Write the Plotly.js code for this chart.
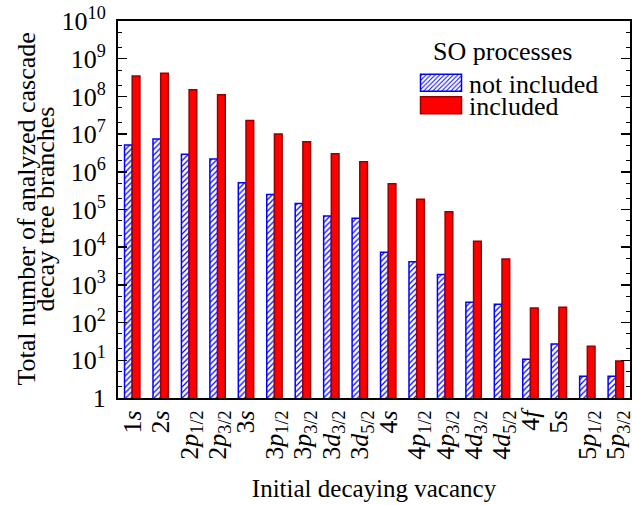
<!DOCTYPE html>
<html>
<head>
<meta charset="utf-8">
<script src="https://cdn.plot.ly/plotly-3.0.1.min.js"></script>
<style>html,body{margin:0;padding:0;background:#fff;}#chart{width:632px;height:505px;}</style>
</head>
<body>
<div id="chart"></div>
<script>
const categories = ["1<i>s</i>","2<i>s</i>","2<i>p</i><sub>1/2</sub>","2<i>p</i><sub>3/2</sub>","3<i>s</i>",
  "3<i>p</i><sub>1/2</sub>","3<i>p</i><sub>3/2</sub>","3<i>d</i><sub>3/2</sub>","3<i>d</i><sub>5/2</sub>","4<i>s</i>",
  "4<i>p</i><sub>1/2</sub>","4<i>p</i><sub>3/2</sub>","4<i>d</i><sub>3/2</sub>","4<i>d</i><sub>5/2</sub>","4<i>f</i>",
  "5<i>s</i>","5<i>p</i><sub>1/2</sub>","5<i>p</i><sub>3/2</sub>"];
const notIncluded = [5.1e6, 7.4e6, 2.9e6, 2.2e6, 5.1e5, 2.5e5, 1.45e5, 6.7e4, 5.9e4, 7.3e3,
  4.1e3, 1.9e3, 346, 307, 10.6, 27, 3.8, 3.8];
const included = [3.5e8, 4.1e8, 1.5e8, 1.1e8, 2.3e7, 1.0e7, 6.3e6, 3.0e6, 1.86e6, 4.8e5,
  1.86e5, 8.7e4, 1.44e4, 4.9e3, 244, 255, 23.5, 9.6];
const yTickVals = [1,1e1,1e2,1e3,1e4,1e5,1e6,1e7,1e8,1e9,1e10];
const yTickText = ["1","10<sup>1</sup>","10<sup>2</sup>","10<sup>3</sup>","10<sup>4</sup>","10<sup>5</sup>",
  "10<sup>6</sup>","10<sup>7</sup>","10<sup>8</sup>","10<sup>9</sup>","10<sup>10</sup>"];
const yTitleLines = ["Total number of analyzed cascade", "decay tree branches"];

const font = "Liberation Serif";
const data = [
  {type:'bar', x:categories, y:notIncluded, name:'not included',
   marker:{color:'white', line:{color:'#0000ff', width:1.5},
     pattern:{shape:'/', fgcolor:'#0000ff', bgcolor:'white', size:4, solidity:0.3}}},
  {type:'bar', x:categories, y:included, name:'included',
   marker:{color:'#ff0000', line:{color:'#990000', width:1.5}}}
];
const layout = {
  width:632, height:505,
  margin:{l:118, r:2, t:21, b:107},
  paper_bgcolor:'white', plot_bgcolor:'white',
  font:{family:font, size:26, color:'black'},
  barmode:'group', bargap:0.46, bargroupgap:0,
  showlegend:true,
  legend:{x:0.585, y:0.96, xanchor:'left', yanchor:'top', bgcolor:'rgba(0,0,0,0)',
    font:{family:font, size:26}, title:{text:'SO processes', font:{family:font, size:26}, side:'top'},
    tracegroupgap:0, itemwidth:45},
  xaxis:{type:'category', showline:true, linewidth:2, linecolor:'black', mirror:true,
    tickmode:'linear', tick0:0, dtick:1,
    ticks:'', tickangle:-90, tickfont:{family:font, size:26}, ticklabelstandoff:0,
    title:{text:'Initial decaying vacancy', font:{family:font, size:25}, standoff:21},
    automargin:false, range:[-0.5, 17.5]},
  yaxis:{type:'log', range:[0,10], showline:true, linewidth:2, linecolor:'black', mirror:'allticks',
    tickvals:yTickVals, ticktext:yTickText, ticks:'inside', ticklen:9, tickwidth:1.5, tickcolor:'black',
    minor:{ticks:'inside', ticklen:4, tickcolor:'black', tickwidth:1},
    tickfont:{family:font, size:26}, showgrid:false, zeroline:false, ticklabelstandoff:5,
    automargin:false},
  annotations:[
    {text:yTitleLines[0], xref:'paper', yref:'paper', x:0, y:0.5, xanchor:'center', yanchor:'middle',
     xshift:-92, textangle:-90, showarrow:false, font:{family:font, size:26}},
    {text:yTitleLines[1], xref:'paper', yref:'paper', x:0, y:0.5, xanchor:'center', yanchor:'middle',
     xshift:-73, textangle:-90, showarrow:false, font:{family:font, size:26}}
  ]
};
function shift(el, dx, dy){
  const t = el.getAttribute('transform') || '';
  el.setAttribute('transform', 'translate(' + dx + ',' + dy + ') ' + t);
}
Plotly.newPlot('chart', data, layout, {staticPlot:true}).then(function(){
  const sb = document.querySelector('.legend .scrollbox');
  if (sb) sb.removeAttribute('clip-path');
  const leg = document.querySelector('.legend');
  if (leg) leg.removeAttribute('clip-path');
  const traces = document.querySelectorAll('.legend .traces');
  traces.forEach(function(tr, i){
    const p = tr.querySelector('.legendpoints path');
    if (!p) return;
    p.setAttribute('d', 'M20.5,8.5H-20.5V-8.5H20.5Z');
    p.style.strokeWidth = '1.5px';
    let b = p.getBoundingClientRect();
    shift(tr, 441 - (b.left + b.width/2), (82.7 + 22.5*i) - (b.top + b.height/2));
    const t = tr.querySelector('.legendtext');
    if (t) { const tb = t.getBoundingClientRect(); shift(t, 469 - tb.left, 0); }
  });
  const title = document.querySelector('.legend .legendtitletext');
  if (title) { const b = title.getBoundingClientRect(); shift(title, 433 - b.left, 52 - (b.top + b.height/2)); }
});
</script>
</body>
</html>
